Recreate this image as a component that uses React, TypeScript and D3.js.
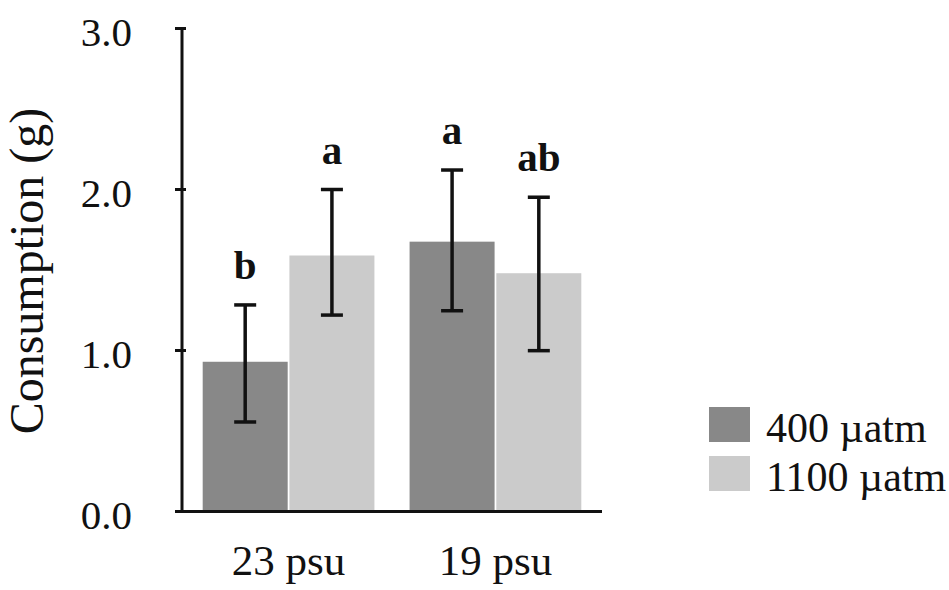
import { useEffect, useRef } from "react"
import * as d3 from "d3"

const salinities = ["23 psu", "19 psu"]
const treatments = ["400 µatm", "1100 µatm"]
// means per salinity, in treatment order
const means = [
  [0.93, 1.59],
  [1.676, 1.48],
]
const upper = [
  [1.283, 2.0],
  [2.121, 1.952],
]
const lower = [
  [0.556, 1.22],
  [1.247, 0.999],
]
const letters = [
  ["b", "a"],
  ["a", "ab"],
]
const yTicks = [0, 1, 2, 3]

const colors = ["#888888", "#cbcbcb"]
const font = "'Times New Roman', 'Liberation Serif', serif"

export default function App() {
  const svgRef = useRef<SVGSVGElement>(null)

  useEffect(() => {
    document.body.style.margin = "0"
    if (!svgRef.current) return
    const svg = d3.select(svgRef.current)
    svg.selectAll("*").remove()

    const x0 = d3.scaleBand().domain(salinities).range([182, 602]).paddingInner(0.17).paddingOuter(0.1)
    const x1 = d3.scaleBand().domain(treatments).range([0, x0.bandwidth()]).paddingInner(0.02)
    const y = d3.scaleLinear().domain([0, 3]).range([511.5, 28.5])

    const rows = salinities.flatMap((s, i) =>
      treatments.map((t, j) => ({
        s, t, j,
        mean: means[i][j],
        hi: upper[i][j],
        lo: lower[i][j],
        letter: letters[i][j],
      }))
    )
    const cx = (d: { s: string; t: string }) => (x0(d.s) || 0) + (x1(d.t) || 0) + x1.bandwidth() / 2

    // bars
    svg.append("g")
      .selectAll("rect")
      .data(rows)
      .enter()
      .append("rect")
      .attr("x", d => (x0(d.s) || 0) + (x1(d.t) || 0))
      .attr("y", d => y(d.mean))
      .attr("width", x1.bandwidth())
      .attr("height", d => y(0) - y(d.mean))
      .attr("fill", d => colors[d.j])

    // axes
    svg.append("line")
      .attr("x1", 182).attr("x2", 182)
      .attr("y1", y(3)).attr("y2", y(0))
      .attr("stroke", "#111").attr("stroke-width", 3)
    svg.append("line")
      .attr("x1", 180.5).attr("x2", 602)
      .attr("y1", y(0)).attr("y2", y(0))
      .attr("stroke", "#111").attr("stroke-width", 3)

    const ticks = svg.append("g")
    ticks.selectAll("line")
      .data(yTicks)
      .enter()
      .append("line")
      .attr("x1", 175).attr("x2", 186)
      .attr("y1", d => y(d)).attr("y2", d => y(d))
      .attr("stroke", "#111").attr("stroke-width", 3)
    ticks.selectAll("text")
      .data(yTicks)
      .enter()
      .append("text")
      .attr("x", 132)
      .attr("y", d => y(d) + 17)
      .attr("text-anchor", "end")
      .style("font-family", font)
      .style("font-size", "41px")
      .style("fill", "#111")
      .text(d => d.toFixed(1))

    // error bars
    const err = svg.append("g").attr("stroke", "#111").attr("stroke-width", 3.5)
    rows.forEach(d => {
      const c = cx(d)
      err.append("line").attr("x1", c).attr("x2", c).attr("y1", y(d.hi)).attr("y2", y(d.lo))
      err.append("line").attr("x1", c - 11).attr("x2", c + 11).attr("y1", y(d.hi)).attr("y2", y(d.hi))
      err.append("line").attr("x1", c - 11).attr("x2", c + 11).attr("y1", y(d.lo)).attr("y2", y(d.lo))
    })

    // significance letters
    svg.append("g")
      .selectAll("text")
      .data(rows)
      .enter()
      .append("text")
      .attr("x", d => cx(d))
      .attr("y", d => y(d.hi) - 26)
      .attr("text-anchor", "middle")
      .style("font-family", font)
      .style("font-size", "41px")
      .style("font-weight", "bold")
      .style("fill", "#111")
      .text(d => d.letter)

    // x labels
    svg.append("g")
      .selectAll("text")
      .data(salinities)
      .enter()
      .append("text")
      .attr("x", d => (x0(d) || 0) + x0.bandwidth() / 2)
      .attr("y", 575)
      .attr("text-anchor", "middle")
      .style("font-family", font)
      .style("font-size", "43px")
      .style("fill", "#111")
      .text(d => d)

    // y label
    svg.append("text")
      .attr("transform", "translate(43,271) rotate(-90)")
      .attr("text-anchor", "middle")
      .style("font-family", font)
      .style("font-size", "48px")
      .style("fill", "#111")
      .text("Consumption (g)")

    // legend
    const legend = svg.append("g")
    treatments.forEach((t, j) => {
      legend.append("rect")
        .attr("x", 709).attr("y", 407 + j * 49)
        .attr("width", 41).attr("height", 35)
        .attr("fill", colors[j])
      legend.append("text")
        .attr("x", 766).attr("y", 442 + j * 49)
        .style("font-family", font)
        .style("font-size", "42px")
        .style("fill", "#111")
        .text(t)
    })
  }, [])

  return <svg ref={svgRef} width={949} height={590} style={{ display: "block", background: "#fff" }} />
}
